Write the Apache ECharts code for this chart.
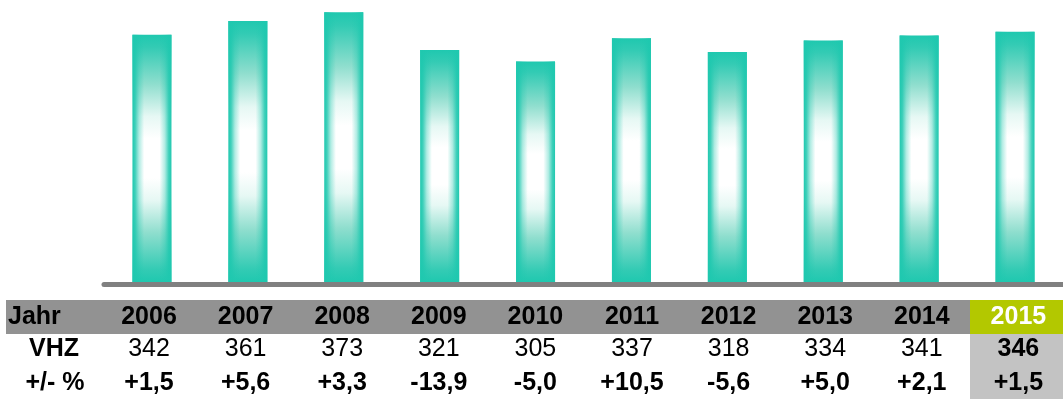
<!DOCTYPE html>
<html>
<head>
<meta charset="utf-8">
<script src="https://cdn.jsdelivr.net/npm/echarts@6/dist/echarts.min.js"></script>
<style>
  html, body { margin: 0; padding: 0; background: #fff; }
  #chart { width: 1063px; height: 399px; }
</style>
</head>
<body>
<div id="chart"></div>
<script>
// Jahr / VHZ / Veränderung in Prozent
const years = ['2006', '2007', '2008', '2009', '2010', '2011', '2012', '2013', '2014', '2015'];
const vhz = [342, 361, 373, 321, 305, 337, 318, 334, 341, 346];
const change = ['+1,5', '+5,6', '+3,3', '-13,9', '-5,0', '+10,5', '-5,6', '+5,0', '+2,1', '+1,5'];
const rowLabels = ['Jahr', 'VHZ', '+/- %'];

const TEAL = '#1fc8af';
const font = 'Liberation Sans, Arial, Helvetica, sans-serif';

// table geometry
const colX0 = 149, colStep = 96.6;
const rowY = [317, 349, 383];
const bandTop = 300, bandBottom = 334, tableBottom = 399;
const hiLeft = 970;
const last = years.length - 1;

const graphics = [
  { type: 'rect', shape: { x: 6, y: bandTop, width: hiLeft - 6, height: bandBottom - bandTop }, style: { fill: '#929292' }, z: 0 },
  { type: 'rect', shape: { x: hiLeft, y: bandTop, width: 1063 - hiLeft, height: bandBottom - bandTop }, style: { fill: '#b3c800' }, z: 0 },
  { type: 'rect', shape: { x: hiLeft, y: bandBottom, width: 1063 - hiLeft, height: tableBottom - bandBottom }, style: { fill: '#c3c3c3' }, z: 0 }
];

function cellText(txt, x, y, opts) {
  return {
    type: 'text', z: 5,
    style: Object.assign({
      text: txt, x: x, y: y, align: 'center', verticalAlign: 'middle',
      font: 'bold 25px ' + font, fill: '#000'
    }, opts || {})
  };
}

graphics.push(cellText(rowLabels[0], 8, rowY[0], { align: 'left' }));
graphics.push(cellText(rowLabels[1], 54, rowY[1]));
graphics.push(cellText(rowLabels[2], 55, rowY[2]));

years.forEach(function (y, i) {
  const cx = colX0 + colStep * i;
  const isLast = i === last;
  graphics.push(cellText(y, cx, rowY[0], { fill: isLast ? '#fff' : '#000' }));
  graphics.push(cellText(String(vhz[i]), cx, rowY[1], { font: (isLast ? 'bold ' : '') + '25px ' + font }));
  graphics.push(cellText(change[i], cx, rowY[2]));
});

const chart = echarts.init(document.getElementById('chart'));
chart.setOption({
  animation: false,
  backgroundColor: '#fff',
  grid: { left: 104, top: 0, width: 977, height: 282 },
  xAxis: {
    type: 'category',
    data: years,
    offset: 2.5,
    axisLine: { show: true, onZero: false, lineStyle: { color: '#808080', width: 5 } },
    axisTick: { show: false },
    axisLabel: { show: false },
    splitLine: { show: false }
  },
  yAxis: {
    type: 'value', min: 0, max: 390,
    show: false, splitLine: { show: false }
  },
  series: [
    {
      // vertical shading: teal top and bottom, long white middle
      type: 'bar',
      data: vhz,
      barWidth: 39,
      barGap: '-100%',
      itemStyle: {
        color: {
          type: 'linear', x: 0, y: 0, x2: 0, y2: 1,
          colorStops: [
            { offset: 0, color: TEAL },
            { offset: 0.05, color: '#33cbb4' },
            { offset: 0.2, color: '#8fdece' },
            { offset: 0.33, color: '#e6f8f4' },
            { offset: 0.42, color: '#ffffff' },
            { offset: 0.58, color: '#ffffff' },
            { offset: 0.67, color: '#e6f8f4' },
            { offset: 0.8, color: '#8fdece' },
            { offset: 0.95, color: '#33cbb4' },
            { offset: 1, color: TEAL }
          ]
        }
      },
      z: 2
    },
    {
      // horizontal shading: teal side edges fading into the centre
      type: 'bar',
      data: vhz,
      barWidth: 39,
      barGap: '-100%',
      itemStyle: {
        color: {
          type: 'linear', x: 0, y: 0, x2: 1, y2: 0,
          colorStops: [
            { offset: 0, color: 'rgba(31,200,175,1)' },
            { offset: 0.07, color: 'rgba(31,200,175,0.85)' },
            { offset: 0.17, color: 'rgba(31,200,175,0.35)' },
            { offset: 0.3, color: 'rgba(31,200,175,0)' },
            { offset: 0.7, color: 'rgba(31,200,175,0)' },
            { offset: 0.83, color: 'rgba(31,200,175,0.35)' },
            { offset: 0.93, color: 'rgba(31,200,175,0.85)' },
            { offset: 1, color: 'rgba(31,200,175,1)' }
          ]
        }
      },
      z: 3
    }
  ],
  graphic: graphics
});
</script>
</body>
</html>
